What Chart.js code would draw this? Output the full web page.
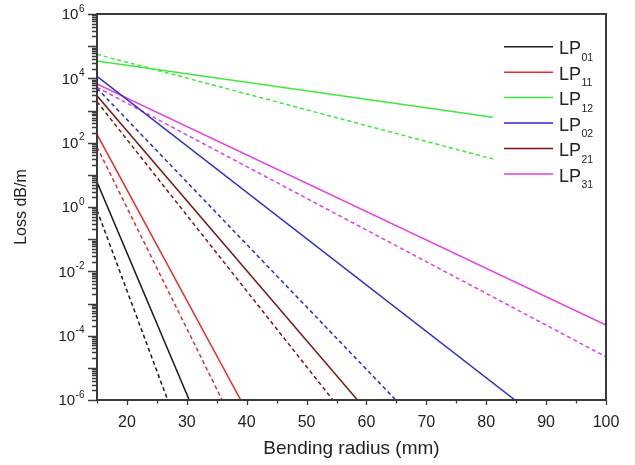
<!DOCTYPE html>
<html><head><meta charset="utf-8">
<script src="https://cdn.jsdelivr.net/npm/chart.js@4.4.0/dist/chart.umd.min.js"></script>
<style>html,body{margin:0;padding:0;background:#fff;}#wrap{width:635px;height:465px;}</style>
</head><body><div id="wrap"><canvas id="c" width="635" height="465"></canvas></div>
<script>
// ---- data ----
const modeSubs = ['01', '11', '12', '02', '21', '31'];
const modeColors = ['#1a1a1a', '#ee2a2a', '#3de83d', '#2a2ad2', '#7f1616', '#e63ce6'];

const lp01SolidX = [15, 30.4], lp01SolidY = [6.0, 1e-6];
const lp01DashX  = [15, 26.8], lp01DashY  = [0.8, 1e-6];
const lp11SolidX = [15, 39.0], lp11SolidY = [180, 1e-6];
const lp11DashX  = [15, 35.9], lp11DashY  = [73, 1e-6];
const lp12SolidX = [15, 81.1], lp12SolidY = [34600, 615];
const lp12DashX  = [15, 81.1], lp12DashY  = [55800, 31];
const lp02SolidX = [15, 84.8], lp02SolidY = [11600, 1e-6];
const lp02DashX  = [15, 64.9], lp02DashY  = [4900, 1e-6];
const lp21SolidX = [15, 58.5], lp21SolidY = [2880, 1e-6];
const lp21DashX  = [15, 54.4], lp21DashY  = [1880, 1e-6];
const lp31SolidX = [15, 100],  lp31SolidY = [6670, 2.15e-4];
const lp31DashX  = [15, 100],  lp31DashY  = [5250, 2.2e-5];

const xTickValues = [15, 20, 25, 30, 35, 40, 45, 50, 55, 60, 65, 70, 75, 80, 85, 90, 95, 100];
const xTickLabels = ['', '20', '', '30', '', '40', '', '50', '', '60', '', '70', '', '80', '', '90', '', '100'];
const yTickExponents = [6, 4, 2, 0, -2, -4, -6];

// ---- build datasets ----
const solidX = [lp01SolidX, lp11SolidX, lp12SolidX, lp02SolidX, lp21SolidX, lp31SolidX];
const solidY = [lp01SolidY, lp11SolidY, lp12SolidY, lp02SolidY, lp21SolidY, lp31SolidY];
const dashX = [lp01DashX, lp11DashX, lp12DashX, lp02DashX, lp21DashX, lp31DashX];
const dashY = [lp01DashY, lp11DashY, lp12DashY, lp02DashY, lp21DashY, lp31DashY];
const pts = (xs, ys) => xs.map((x, i) => ({x: x, y: ys[i]}));
const datasets = [];
modeSubs.forEach((s, i) => {
  datasets.push({label: 'LP' + s, data: pts(solidX[i], solidY[i]), borderColor: modeColors[i], borderWidth: 1.5, pointRadius: 0, fill: false, tension: 0});
  datasets.push({label: 'LP' + s + ' dashed', data: pts(dashX[i], dashY[i]), borderColor: modeColors[i], borderWidth: 1.5, borderDash: [4, 3], pointRadius: 0, fill: false, tension: 0});
});

const FONT = 'Liberation Sans, Arial, sans-serif';
const TXT = '#222';

const deco = {
  id: 'deco',
  afterDraw(chart) {
    const ctx = chart.ctx, ca = chart.chartArea;
    const xs = chart.scales.x, ys = chart.scales.y;
    ctx.save();
    ctx.strokeStyle = '#3a3a3a';
    ctx.lineWidth = 2;
    ctx.strokeRect(ca.left, ca.top, ca.right - ca.left, ca.bottom - ca.top);
    ctx.lineWidth = 1.3;
    ctx.beginPath();
    xTickValues.forEach(v => {
      const px = Math.round(xs.getPixelForValue(v)) + 0.5;
      const len = v % 10 === 0 ? 5 : 3.5;
      ctx.moveTo(px, ca.bottom); ctx.lineTo(px, ca.bottom + len);
    });
    for (let e = -6; e <= 6; e++) {
      for (let m = 1; m <= 9; m++) {
        if (e === 6 && m > 1) break;
        const py = Math.round(ys.getPixelForValue(m * Math.pow(10, e))) + 0.5;
        const len = m === 1 ? 9 : 5;
        ctx.moveTo(ca.left, py); ctx.lineTo(ca.left - len, py);
      }
    }
    ctx.stroke();
    // y tick labels with superscripts
    ctx.fillStyle = TXT;
    ctx.textAlign = 'right';
    ctx.textBaseline = 'alphabetic';
    const supRight = ca.left - 12.5;
    yTickExponents.forEach(e => {
      const py = ys.getPixelForValue(Math.pow(10, e));
      const sup = String(e);
      ctx.font = '10px ' + FONT;
      const w = ctx.measureText(sup).width;
      ctx.fillText(sup, supRight, py - 2.5);
      ctx.font = '15px ' + FONT;
      ctx.fillText('10', supRight - w - 0.5, py + 5.2);
    });
    // legend
    const lx0 = ca.right - 102, lx1 = ca.right - 53, tx = ca.right - 47;
    modeSubs.forEach((s, i) => {
      const y = ca.top + 32.7 + i * 25.45;
      ctx.strokeStyle = modeColors[i];
      ctx.lineWidth = 1.5;
      ctx.beginPath(); ctx.moveTo(lx0, y); ctx.lineTo(lx1, y); ctx.stroke();
      ctx.textAlign = 'left';
      ctx.font = '18px ' + FONT;
      ctx.fillText('LP', tx, y + 7.6);
      const w = ctx.measureText('LP').width;
      ctx.font = '10.5px ' + FONT;
      ctx.fillText(s, tx + w + 0.5, y + 14);
    });
    ctx.restore();
  }
};

new Chart(document.getElementById('c'), {
  type: 'line',
  data: {datasets: datasets},
  options: {
    responsive: false,
    animation: false,
    events: [],
    layout: {padding: {top: 14, right: 29, left: 0, bottom: 0}},
    plugins: {legend: {display: false}, tooltip: {enabled: false}},
    scales: {
      x: {
        type: 'linear', min: 15, max: 100,
        afterBuildTicks: (scale) => { scale.ticks = xTickValues.map(v => ({value: v})); },
        afterFit: (scale) => { scale.height = 65; },
        grid: {display: false},
        border: {display: false},
        ticks: {
          autoSkip: false, maxRotation: 0, padding: 5, color: TXT,
          font: {family: FONT, size: 16},
          callback: (v) => { const i = xTickValues.indexOf(v); return i >= 0 ? xTickLabels[i] : ''; }
        },
        title: {display: true, text: 'Bending radius (mm)', color: TXT, font: {family: FONT, size: 19}, padding: {top: 0, bottom: 5}}
      },
      y: {
        type: 'logarithmic', min: 1e-6, max: 1e6,
        afterFit: (scale) => { scale.width = 97; },
        grid: {display: false},
        border: {display: false},
        ticks: {display: false},
        title: {display: true, text: 'Loss dB/m', color: TXT, font: {family: FONT, size: 16}, padding: {top: 12, bottom: 0}}
      }
    }
  },
  plugins: [deco]
});
</script>
</body></html>
